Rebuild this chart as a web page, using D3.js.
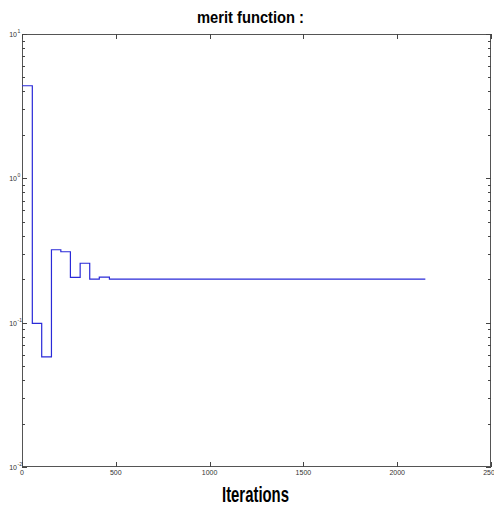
<!DOCTYPE html>
<html><head><meta charset="utf-8">
<script src="https://cdn.jsdelivr.net/npm/d3@7"></script>
<style>body{margin:0;background:#fff}svg{display:block}</style>
</head><body>
<svg id="c" width="494" height="512"></svg>
<script>
const iterations = [0, 55, 105, 157, 207, 258, 310, 361, 412, 466, 2150];
const meritValues = [4.38, 0.099, 0.058, 0.32, 0.31, 0.206, 0.258, 0.2, 0.207, 0.2, 0.2];
const xTicks = [0, 500, 1000, 1500, 2000, 2500];
const yExponents = [1, 0, -1, -2];
const titleText = "merit function :";
const xLabel = "Iterations";

const svg = d3.select("#c");
const L = 22, R = 491, T = 34, B = 467;
const x = d3.scaleLinear().domain([0, 2500]).range([L, R]);
const y = d3.scaleLog().domain([0.01, 10]).range([B, T]);

// frame
svg.append("rect").attr("x", L + 0.5).attr("y", T + 0.5).attr("width", R - L - 1).attr("height", B - T - 1)
  .attr("fill", "none").attr("stroke", "#555").attr("stroke-width", 1);

// minor y ticks
const minor = [];
for (let e = -2; e < 1; e++) for (let m = 2; m <= 9; m++) minor.push(m * Math.pow(10, e));
const tg = svg.append("g").attr("stroke", "#444").attr("stroke-width", 1);
minor.forEach(v => {
  const yy = Math.round(y(v)) + 0.5;
  tg.append("line").attr("x1", L).attr("x2", L + 3).attr("y1", yy).attr("y2", yy);
  tg.append("line").attr("x1", R).attr("x2", R - 3).attr("y1", yy).attr("y2", yy);
});
yExponents.forEach(e => {
  const yy = Math.round(y(Math.pow(10, e))) + 0.5;
  tg.append("line").attr("x1", L).attr("x2", L + 5).attr("y1", yy).attr("y2", yy);
  tg.append("line").attr("x1", R).attr("x2", R - 5).attr("y1", yy).attr("y2", yy);
});
xTicks.forEach(v => {
  const xx = Math.round(x(v)) + 0.5;
  tg.append("line").attr("x1", xx).attr("x2", xx).attr("y1", B).attr("y2", B - 5);
  tg.append("line").attr("x1", xx).attr("x2", xx).attr("y1", T).attr("y2", T + 5);
});

// y tick labels
yExponents.forEach(e => {
  const yy = y(Math.pow(10, e));
  svg.append("text").attr("x", 17).attr("y", yy + 3).attr("text-anchor", "end")
    .attr("font-family", "Liberation Sans, Arial, sans-serif").attr("font-size", 7).attr("fill", "#333")
    .text("10");
  svg.append("text").attr("x", 17.5).attr("y", yy - 1).attr("font-family", "Liberation Sans, Arial, sans-serif")
    .attr("font-size", 5).attr("fill", "#333").text(String(e));
});

// x tick labels
xTicks.forEach(v => {
  svg.append("text").attr("x", x(v)).attr("y", 475).attr("text-anchor", "middle")
    .attr("font-family", "Liberation Sans Narrow, Liberation Sans, Arial, sans-serif").attr("font-size", 7)
    .attr("fill", "#333").text(String(v));
});

// line
const pts = iterations.map((it, i) => [it, meritValues[i]]);
svg.append("path").datum(pts)
  .attr("d", d3.line().x(d => x(d[0])).y(d => y(d[1])).curve(d3.curveStepAfter))
  .attr("fill", "none").attr("stroke", "#2a2ad8").attr("stroke-width", 1.2);

// title
svg.append("text").attr("x", 250.5).attr("y", 23).attr("text-anchor", "middle")
  .attr("font-family", "Liberation Sans, Arial, sans-serif").attr("font-weight", "bold").attr("font-size", 17)
  .attr("textLength", 107).attr("lengthAdjust", "spacingAndGlyphs").attr("fill", "#000").text(titleText);
svg.append("text").attr("x", 255.5).attr("y", 502).attr("text-anchor", "middle")
  .attr("font-family", "Liberation Sans, Arial, sans-serif").attr("font-weight", "bold").attr("font-size", 22)
  .attr("textLength", 67).attr("lengthAdjust", "spacingAndGlyphs").attr("fill", "#000").text(xLabel);
</script>
</body></html>
